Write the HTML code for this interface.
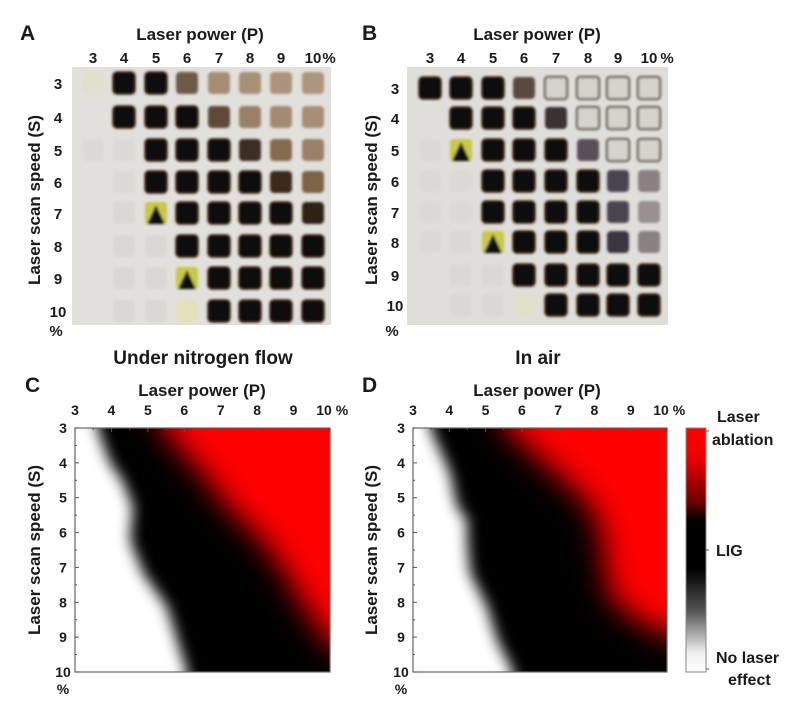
<!DOCTYPE html>
<html><head><meta charset="utf-8"><style>
html,body{margin:0;padding:0;background:#fff;width:807px;height:707px;overflow:hidden}
svg{display:block}
text{font-family:"Liberation Sans",Arial,sans-serif;font-weight:bold;fill:#1a1a1a}
</style></head><body>
<svg id="s" width="807" height="707" viewBox="0 0 807 707" xmlns="http://www.w3.org/2000/svg">
<defs>
<filter id="sq" x="-30%" y="-30%" width="160%" height="160%"><feGaussianBlur stdDeviation="1.2"/></filter>
<filter id="b1" x="-20%" y="-20%" width="140%" height="140%"><feGaussianBlur stdDeviation="7"/></filter>
<filter id="b2" x="-20%" y="-20%" width="140%" height="140%"><feGaussianBlur stdDeviation="15"/></filter>
<clipPath id="cc"><rect x="75" y="428" width="255" height="244"/></clipPath>
<clipPath id="cd"><rect x="413" y="428" width="254" height="244"/></clipPath>
<linearGradient id="cb" x1="0" y1="0" x2="0" y2="1">
<stop offset="0" stop-color="#ff0000"/><stop offset="0.12" stop-color="#f00000"/>
<stop offset="0.3" stop-color="#700000"/><stop offset="0.38" stop-color="#000"/>
<stop offset="0.58" stop-color="#000"/><stop offset="0.75" stop-color="#555"/>
<stop offset="0.92" stop-color="#eee"/><stop offset="1" stop-color="#fff"/></linearGradient>
</defs>

<text x="20" y="40" font-size="21">A</text>
<text x="200" y="40" font-size="17" text-anchor="middle">Laser power (P)</text>
<rect x="72" y="67" width="259" height="258" fill="#e2e0dc"/>
<g id="gA" filter="url(#sq)"></g>
<g font-size="15" text-anchor="middle" id="tA"></g>
<text x="56" y="336" font-size="15" text-anchor="middle">%</text>
<text transform="translate(40,200) rotate(-90)" font-size="17" text-anchor="middle">Laser scan speed (S)</text>

<text x="362" y="40" font-size="21">B</text>
<text x="537" y="40" font-size="17" text-anchor="middle">Laser power (P)</text>
<rect x="407" y="67" width="261" height="258" fill="#e0dedb"/>
<g id="gB" filter="url(#sq)"></g>
<g font-size="15" text-anchor="middle" id="tB"></g>
<text x="392" y="336" font-size="15" text-anchor="middle">%</text>
<text transform="translate(377,200) rotate(-90)" font-size="17" text-anchor="middle">Laser scan speed (S)</text>

<text x="203" y="364" font-size="19" text-anchor="middle">Under nitrogen flow</text>
<text x="538" y="364" font-size="19" text-anchor="middle">In air</text>

<text x="25" y="392" font-size="21">C</text>
<text x="202" y="396" font-size="17" text-anchor="middle">Laser power (P)</text>
<g clip-path="url(#cc)">
<rect x="75" y="428" width="255" height="244" fill="#fff"/>
<polygon filter="url(#b1)" fill="#000" points="97,400 97,428 110,463 122,480 133,507 130,540 143,573 167,607 177,640 187,672 187,700 360,700 360,400"/>
<polygon filter="url(#b2)" fill="#ff0000" points="155,400 162,428 202,473 228,507 262,540 285,573 305,607 335,650 370,650 370,400"/>
</g>
<rect x="75" y="428" width="255" height="244" fill="none" stroke="#666" stroke-width="1.2"/>
<g id="tC" font-size="14" text-anchor="middle"></g>
<text transform="translate(40,550) rotate(-90)" font-size="17" text-anchor="middle">Laser scan speed (S)</text>

<text x="362" y="392" font-size="21">D</text>
<text x="537" y="396" font-size="17" text-anchor="middle">Laser power (P)</text>
<g clip-path="url(#cd)">
<rect x="413" y="428" width="254" height="244" fill="#fff"/>
<polygon filter="url(#b1)" fill="#000" points="430,400 430,428 450,473 457,507 467,520 467,540 470,573 487,607 497,640 513,672 513,700 700,700 700,400"/>
<polygon filter="url(#b2)" fill="#ff0000" points="500,400 505,428 538,457 575,490 595,513 602,540 605,573 612,600 640,622 667,635 710,635 710,400"/>
</g>
<rect x="413" y="428" width="254" height="244" fill="none" stroke="#666" stroke-width="1.2"/>
<g id="tD" font-size="14" text-anchor="middle"></g>
<text transform="translate(377,550) rotate(-90)" font-size="17" text-anchor="middle">Laser scan speed (S)</text>

<rect x="686" y="428" width="20" height="244" fill="url(#cb)" stroke="#888" stroke-width="1"/>
<line x1="706" y1="431" x2="709" y2="431" stroke="#555"/>
<line x1="706" y1="550" x2="709" y2="550" stroke="#555"/>
<line x1="706" y1="669" x2="709" y2="669" stroke="#555"/>
<g font-size="16">
<text x="717" y="422">Laser</text>
<text x="712" y="445">ablation</text>
<text x="716" y="556">LIG</text>
<text x="716" y="663">No laser</text>
<text x="728" y="685">effect</text>
</g>
</svg>
<script>
const NS="http://www.w3.org/2000/svg";
function el(p,t,a,txt){const e=document.createElementNS(NS,t);for(const k in a)e.setAttribute(k,a[k]);if(txt!==undefined)e.textContent=txt;document.getElementById(p).appendChild(e);return e;}
const K="#0d0b09",N=null,f1="#dcdad6",f2="#dad8d4";
const A=[
["#e0e0cc",K,K,"#6e5a48","#a48c74","#a89078","#ac947c","#ac967e"],
[N,K,K,K,"#5e4a38","#9a8068","#a48a72","#a88e74"],
[f1,f1,K,K,K,"#3e2e20","#846a50","#9a8066"],
[N,f1,K,K,K,K,"#3a2a1c","#7e6448"],
[N,f2,"Y",K,K,K,K,"#2e2218"],
[N,f2,f2,K,K,K,K,K],
[N,f2,f2,"Y",K,K,K,K],
[N,f2,f2,"#e2e0b8",K,K,K,K]];
const axA=[93,124,156,187,219,250,281,313], ayA=[83,117,150,182,213,246,278,311];
const L="O";
const B=[
[K,K,K,"#5a4a40",L,L,L,L],
[N,K,K,K,"#3a3030",L,L,L],
[f1,"Y",K,K,K,"#5a5058",L,L],
[f1,f1,K,K,K,K,"#4a4450","#8a8080"],
[f1,f1,K,K,K,K,"#4a4450","#9a9090"],
[f1,f2,"Y",K,K,K,"#3a3440","#8a8080"],
[N,f2,f2,K,K,K,K,K],
[N,f2,f2,"#e0e0c8",K,K,K,K]];
const axB=[430,461,493,524,556,588,618,649], ayB=[88,118,150,181,212,242,275,305];
function grid(g,D,ax,ay,s){
 for(let r=0;r<8;r++)for(let c=0;c<8;c++){const v=D[r][c];if(!v)continue;
  const x=ax[c]-s/2,y=ay[r]-s/2;
  if(v==="O"){el(g,"rect",{x:x,y:y,width:s,height:s,rx:3,fill:"#d6d2cc",stroke:"#4a3e34","stroke-width":2});}
  else if(v==="Y"){el(g,"rect",{x:x,y:y,width:s,height:s,rx:3,fill:"#c8c848"});
   el(g,"polygon",{points:`${x+2},${y+s} ${x+s/2},${y+3} ${x+s-2},${y+s}`,fill:K});}
  else el(g,"rect",{x:x,y:y,width:s,height:s,rx:4,fill:v,stroke:(v===K?"#3a2814":"none"),"stroke-width":1.5});
 }}
grid("gA",A,axA,ayA,22);grid("gB",B,axB,ayB,22);
const cl=["3","4","5","6","7","8","9","10"];
for(let i=0;i<8;i++){
 el("tA","text",{x:axA[i],y:63},cl[i]);el("tA","text",{x:58,y:ayA[i]+6},cl[i]);
 el("tB","text",{x:axB[i],y:63},cl[i]);el("tB","text",{x:395,y:ayB[i]+6},cl[i]);
}
el("tA","text",{x:329,y:63},"%");el("tB","text",{x:667,y:63},"%");
function ax(g,x0,x1,y0,y1){
 for(let i=0;i<8;i++){const x=x0+(x1-x0)*i/7,y=y0+(y1-y0)*i/7;
  el(g,"text",{x:x+(i==7?-6:0),y:y0-13},cl[i]);
  el(g,"text",{x:x0-12,y:y+5},cl[i]);
  el(g,"line",{x1:x,y1:y0,x2:x,y2:y0+4,stroke:"#555"});
  el(g,"line",{x1:x0,y1:y,x2:x0+4,y2:y,stroke:"#555"});
  if(i<7){const xm=x+(x1-x0)/14,ym=y+(y1-y0)/14;
   el(g,"line",{x1:xm,y1:y0,x2:xm,y2:y0+2,stroke:"#555"});
   el(g,"line",{x1:x0,y1:ym,x2:x0+2,y2:ym,stroke:"#555"});}
 }
 el(g,"text",{x:x1+12,y:y0-13},"%");
 el(g,"text",{x:x0-12,y:y1+22},"%");
}
ax("tC",75,330,428,672);ax("tD",413,667,428,672);
</script>
</body></html>
